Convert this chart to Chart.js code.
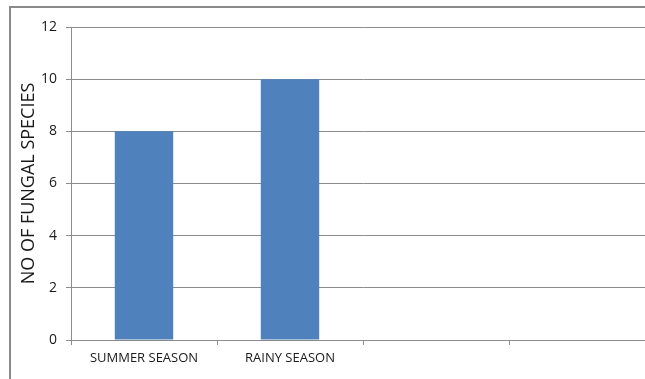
<!DOCTYPE html>
<html>
<head>
<meta charset="utf-8">
<script src="https://cdn.jsdelivr.net/npm/chart.js@4.4.1/dist/chart.umd.min.js"></script>
<style>
  html, body { margin: 0; padding: 0; background: #fff; overflow: hidden; width: 645px; height: 379px; }
  #frame { position: absolute; left: 9px; top: 6px; width: 700px; height: 420px; border-left: 2px solid #8a8a8a; border-top: 2px solid #8a8a8a; box-sizing: border-box; }
  #wrap { position: absolute; left: 0; top: 0; width: 670px; height: 400px; }
</style>
</head>
<body>
<div id="frame"></div>
<div id="wrap"><canvas id="seasonChart"></canvas></div>
<script>
// values
const seasons = ['SUMMER SEASON', 'RAINY SEASON', '', ''];
const speciesCount = [8, 10, null, null];
const yTicks = [0, 2, 4, 6, 8, 10, 12];

const gridGray = '#8c8c8c';
const family = "'Open Sans', 'Liberation Sans', sans-serif";

document.addEventListener('DOMContentLoaded', function() {
    const ctx = document.getElementById('seasonChart');

    new Chart(ctx, {
        type: 'bar',
        data: {
            labels: seasons,
            datasets: [{
                label: 'NO OF FUNGAL SPECIES',
                data: speciesCount,
                backgroundColor: '#4f81bd',
                borderWidth: 0,
                categoryPercentage: 1,
                barPercentage: 0.4
            }]
        },
        options: {
            responsive: true,
            maintainAspectRatio: false,
            animation: false,
            layout: { padding: { top: 27, right: 15, left: 0, bottom: 0 } },
            scales: {
                x: {
                    grid: {
                        offset: true,
                        drawOnChartArea: false,
                        color: gridGray,
                        tickLength: 5
                    },
                    border: { color: gridGray },
                    ticks: {
                        color: '#1a1a1a',
                        font: { family: family, size: 13 },
                        padding: 5,
                        maxRotation: 0
                    },
                    afterFit: function(scale) { scale.height = 60; }
                },
                y: {
                    min: 0,
                    max: 12,
                    afterBuildTicks: function(scale) {
                        scale.ticks = yTicks.map(function(v) { return { value: v }; });
                    },
                    grid: { color: gridGray, tickLength: 5 },
                    border: { color: gridGray },
                    ticks: {
                        color: '#1a1a1a',
                        font: { family: family, size: 14 },
                        padding: 9
                    },
                    title: {
                        display: true,
                        text: 'NO OF FUNGAL SPECIES',
                        color: '#1a1a1a',
                        font: { family: family, size: 18 },
                        padding: { top: 18, bottom: 0 }
                    },
                    afterFit: function(scale) { scale.width = 71; }
                }
            },
            plugins: {
                legend: { display: false },
                tooltip: { enabled: false }
            }
        }
    });
});
</script>
</body>
</html>
